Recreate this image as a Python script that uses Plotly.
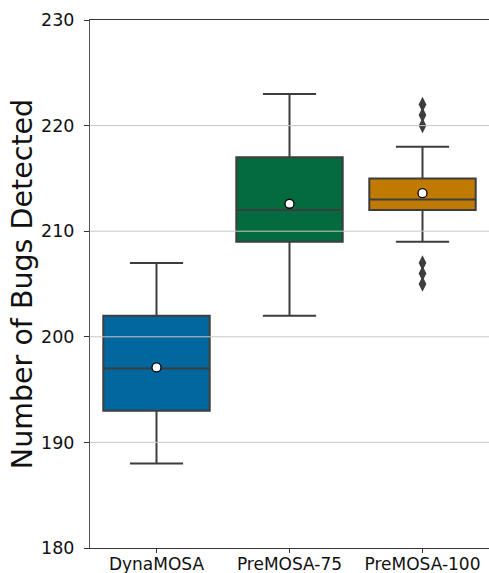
import plotly.graph_objects as go

categories = ["DynaMOSA", "PreMOSA-75", "PreMOSA-100"]
lower_whisker = [188, 202, 209]
q1_values = [193, 209, 212]
median_values = [197, 212, 213]
q3_values = [202, 217, 215]
upper_whisker = [207, 223, 218]
mean_values = [197.1, 212.6, 213.6]
outlier_category = ["PreMOSA-100"] * 6
outlier_values = [222, 221, 220, 207, 206, 205]
y_ticks = [180, 190, 200, 210, 220, 230]

colors = ["#03679f", "#036b3e", "#c07a02"]
edge = "#3d3d3d"
font_family = "DejaVu Sans, Liberation Sans, sans-serif"

fig = go.Figure()
for i, cat in enumerate(categories):
    fig.add_trace(go.Box(
        x=[cat], q1=[q1_values[i]], median=[median_values[i]], q3=[q3_values[i]],
        lowerfence=[lower_whisker[i]], upperfence=[upper_whisker[i]],
        fillcolor=colors[i], line=dict(color=edge, width=2),
        width=0.8, whiskerwidth=0.5, boxpoints=False, showlegend=False, hoverinfo="skip",
    ))

fig.add_trace(go.Scatter(
    x=outlier_category, y=outlier_values, mode="markers",
    marker=dict(symbol="diamond-tall", size=11, color=edge, line=dict(width=0)),
    showlegend=False,
))
fig.add_trace(go.Scatter(
    x=categories, y=mean_values, mode="markers",
    marker=dict(symbol="circle", size=9, color="white", line=dict(color="black", width=1.3)),
    showlegend=False,
))

for t in y_ticks[1:-1]:
    fig.add_shape(type="line", xref="paper", x0=0, x1=1, yref="y", y0=t, y1=t,
                  line=dict(color="#c8c8c8", width=1), layer="above")

fig.update_layout(
    width=489, height=573,
    margin=dict(l=90, r=0, t=20, b=25),
    paper_bgcolor="white", plot_bgcolor="white",
    boxmode="overlay", boxgap=0.2, boxgroupgap=0,
    font=dict(family=font_family, color="#111111"),
    xaxis=dict(
        type="category", categoryorder="array", categoryarray=categories,
        range=[-0.5, 2.5], showgrid=False, zeroline=False, automargin=False,
        showline=True, linecolor="#333333", linewidth=1, mirror=True,
        ticks="outside", ticklen=4, tickcolor="#333333", ticklabelstandoff=-3,
        tickfont=dict(size=17, family=font_family, color="#111111"),
    ),
    yaxis=dict(
        range=[180, 230], tickvals=y_ticks, showgrid=False, zeroline=False, automargin=False,
        showline=True, linecolor="#555555", linewidth=1,
        ticks="outside", ticklen=5, tickcolor="#333333", ticklabelstandoff=6,
        tickfont=dict(size=17.5, family=font_family, color="#111111"),
        title=dict(text="Number of Bugs Detected", font=dict(size=28.5, family=font_family, color="#111111"), standoff=0),
    ),
)

fig.write_html(
    "out.html",
    config={"displayModeBar": False},
    post_script="document.documentElement.style.margin='0';document.body.style.margin='0';document.body.style.overflow='hidden';",
)
